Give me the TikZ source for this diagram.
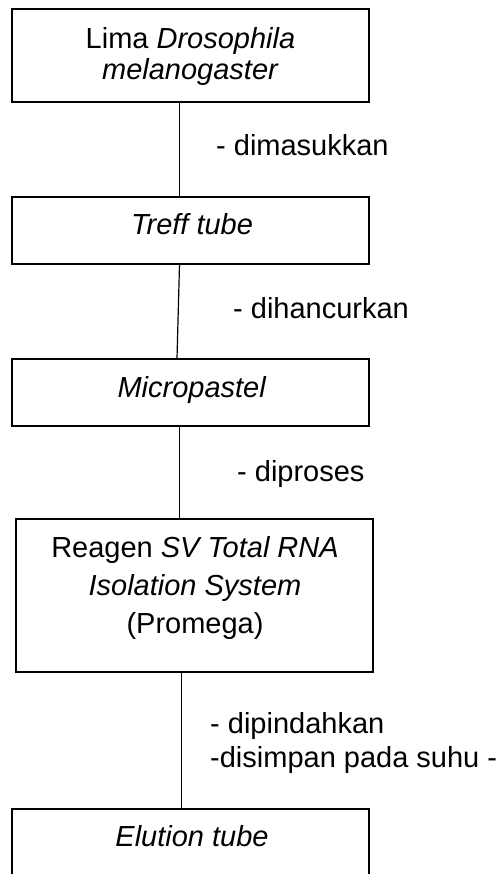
\documentclass[tikz,border=0pt]{standalone}
\usepackage{fontspec}
\setmainfont{Liberation Sans}
\begin{document}
\begin{tikzpicture}[x=1pt,y=1pt,
  box/.style={draw=black, line width=1.2pt, rectangle, inner sep=0pt, fill=none},
  txt/.style={anchor=base, inner sep=0pt, font=\fontsize{29}{34}\selectfont},
  lbl/.style={anchor=base west, inner sep=0pt, font=\fontsize{29}{34}\selectfont},
  conn/.style={draw=black, line width=1.2pt}]
\clip (0,0) rectangle (502,-874);
\fill[white] (0,0) rectangle (502,-874);
% boxes
\node[box, minimum width=357pt, minimum height=93pt] (b1) at (190.5,-55.5) {};
\node[box, minimum width=357pt, minimum height=67pt] (b2) at (190.5,-230.5) {};
\node[box, minimum width=357pt, minimum height=67pt] (b3) at (190.5,-392.5) {};
\node[box, minimum width=357pt, minimum height=153pt] (b4) at (194.5,-595.5) {};
\node[box, minimum width=357pt, minimum height=120pt] (b5) at (190.5,-869) {};
% box texts
\node[txt] (t1a) at (190.5,-48.3) {Lima \textit{Drosophila}};
\node[txt] (t1b) at (190.5,-80) {\textit{melanogaster}};
\node[txt] (t2) at (192,-235) {\textit{Treff tube}};
\node[txt] (t3) at (192,-397) {\textit{Micropastel}};
\node[txt] (t4a) at (195,-557.7) {Reagen \textit{SV Total RNA}};
\node[txt] (t4b) at (195,-595) {\textit{Isolation System}};
\node[txt] (t4c) at (195,-633) {(Promega)};
\node[txt] (t5) at (192,-846.7) {\textit{Elution tube}};
% connectors
\coordinate (c1a) at ([xshift=-11pt]b1.south);
\coordinate (c1b) at ([xshift=-11pt]b2.north);
\coordinate (c2a) at ([xshift=-11pt]b2.south);
\coordinate (c2b) at ([xshift=-13.5pt]b3.north);
\coordinate (c3a) at ([xshift=-11pt]b3.south);
\coordinate (c3b) at ([xshift=-15pt]b4.north);
\coordinate (c4a) at ([xshift=-12.8pt]b4.south);
\coordinate (c4b) at ([xshift=-8.8pt]b5.north);
\draw[conn] (c1a) -- (c1b);
\draw[conn] (c2a) -- (c2b);
\draw[conn] (c3a) -- (c3b);
\draw[conn] (c4a) -- (c4b);
% labels
\node[lbl] (l1) at (216,-156) {- dimasukkan};
\node[lbl] (l2) at (233,-318) {- dihancurkan};
\node[lbl] (l3) at (237,-481.7) {- diproses};
\node[lbl] (l4a) at (210,-733) {- dipindahkan};
\node[lbl] (l4b) at (210,-767.7) {-disimpan pada suhu -};
\end{tikzpicture}
\end{document}
